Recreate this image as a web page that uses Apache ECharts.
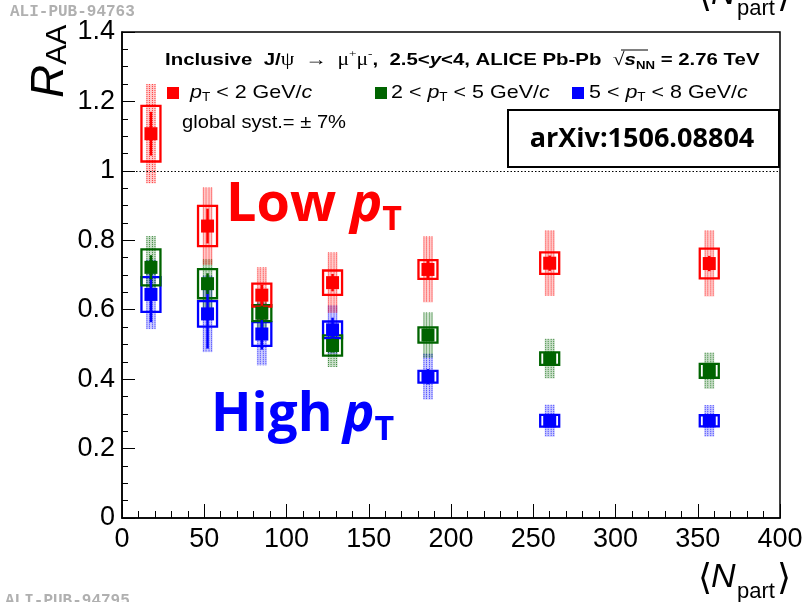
<!DOCTYPE html>
<html><head><meta charset="utf-8">
<script src="https://cdn.jsdelivr.net/npm/echarts@6/dist/echarts.min.js"></script>
<style>html,body{margin:0;padding:0;background:#fff}#c{width:807px;height:602px}</style>
</head><body><div id="c"></div>
<script>
// <Npart> of each centrality class
const npart = [17.6, 52, 85, 128, 186, 260, 357];
// pT < 2 GeV/c
const lowVal  = [1.107, 0.841, 0.642, 0.678, 0.716, 0.734, 0.733];
const lowStat = [0.063, 0.050, 0.030, 0.025, 0.025, 0.022, 0.022];
const lowSys  = [0.080, 0.058, 0.033, 0.035, 0.027, 0.031, 0.043];
const lowCor  = [0.143, 0.111, 0.080, 0.087, 0.095, 0.094, 0.095];
// 2 < pT < 5 GeV/c
const midVal  = [0.722, 0.675, 0.590, 0.497, 0.527, 0.459, 0.424];
const midStat = [0.035, 0.030, 0.020, 0.020, 0.012, 0.012, 0.012];
const midSys  = [0.052, 0.042, 0.023, 0.029, 0.022, 0.018, 0.020];
const midCor  = [0.090, 0.070, 0.060, 0.062, 0.065, 0.057, 0.052];
// 5 < pT < 8 GeV/c
const highVal  = [0.644, 0.588, 0.530, 0.542, 0.407, 0.280, 0.280];
const highStat = [0.080, 0.100, 0.045, 0.035, 0.022, 0.016, 0.014];
const highSys  = [0.050, 0.037, 0.034, 0.024, 0.017, 0.017, 0.016];
const highCor  = [0.100, 0.110, 0.090, 0.070, 0.066, 0.046, 0.045];

const xTicks = [0, 50, 100, 150, 200, 250, 300, 350, 400];
const yTicks = [0, 0.2, 0.4, 0.6, 0.8, 1, 1.2, 1.4];

const RED = '#ff0000', GREEN = '#006400', BLUE = '#0000ff';
const LIGHT = {[RED]:'rgba(255,0,0,0.2)', [GREEN]:'rgba(0,100,0,0.2)', [BLUE]:'rgba(0,0,255,0.2)'};

function pack(v, e) { return npart.map((x, i) => [x, v[i], e[i]]); }

function bandRender(color) {
  return function (params, api) {
    const x = api.value(0), y = api.value(1), h = api.value(2);
    const t = api.coord([x, y + h]), b = api.coord([x, y - h]);
    const w = 10;
    const ch = [{type:'rect', shape:{x:t[0]-w/2, y:t[1], width:w, height:b[1]-t[1]}, style:{fill:LIGHT[color]}}];
    [-4, -1.5, 1.5, 4].forEach(dx => ch.push({type:'line',
      shape:{x1:t[0]+dx, y1:t[1], x2:t[0]+dx, y2:b[1]},
      style:{stroke:color, lineWidth:1, lineDash:[1,1], opacity:0.75}}));
    return {type:'group', children:ch};
  };
}
function boxRender(color) {
  return function (params, api) {
    const x = api.value(0), y = api.value(1), h = api.value(2);
    const t = api.coord([x, y + h]), b = api.coord([x, y - h]);
    const w = 19;
    return {type:'rect', shape:{x:t[0]-w/2, y:t[1], width:w, height:b[1]-t[1]},
      style:{fill:'none', stroke:color, lineWidth:2.3}};
  };
}
function statRender(color) {
  return function (params, api) {
    const x = api.value(0), y = api.value(1), h = api.value(2);
    const t = api.coord([x, y + h]), b = api.coord([x, y - h]);
    return {type:'line', shape:{x1:t[0], y1:t[1], x2:b[0], y2:b[1]},
      style:{stroke:color, lineWidth:2.5}};
  };
}

const sets = [
  {c:BLUE, v:highVal, s:highStat, sy:highSys, co:highCor, n:'5 < pT < 8 GeV/c'},
  {c:GREEN, v:midVal, s:midStat, sy:midSys, co:midCor, n:'2 < pT < 5 GeV/c'},
  {c:RED, v:lowVal, s:lowStat, sy:lowSys, co:lowCor, n:'pT < 2 GeV/c'}
];
const series = [];
sets.forEach(d => series.push({type:'custom', name:d.n+' corr', z:1, renderItem:bandRender(d.c), data:pack(d.v, d.co), silent:true}));
sets.forEach(d => series.push({type:'custom', name:d.n+' syst', z:2, renderItem:boxRender(d.c), data:pack(d.v, d.sy), silent:true}));
sets.forEach(d => series.push({type:'custom', name:d.n+' stat', z:3, renderItem:statRender(d.c), data:pack(d.v, d.s), silent:true}));
sets.forEach((d, k) => {
  const s = {type:'scatter', name:d.n, z:4, symbol:'rect', symbolSize:13,
    itemStyle:{color:d.c, opacity:1}, data:npart.map((x, i) => [x, d.v[i]])};
  if (k === 0) s.markLine = {silent:true, symbol:'none', label:{show:false},
    lineStyle:{color:'#000', type:[1.5,2], width:1}, data:[{yAxis:1}], animation:false};
  series.push(s);
});

const SANS = '"Liberation Sans", Arial, sans-serif';
const OPEN = '"Open Sans", sans-serif';
const tick = {fontFamily:SANS, fontSize:27, color:'#000'};

function nTitle(dy) {
  return [
    {type:'text', x:698, y:580+dy, style:{text:'⟨', fontFamily:'"DejaVu Sans"', fontSize:36, fill:'#000', verticalAlign:'middle'}},
    {type:'text', x:711, y:578+dy, style:{text:'N', fontFamily:SANS, fontStyle:'italic', fontSize:34, fill:'#000', verticalAlign:'middle'}},
    {type:'text', x:737, y:592+dy, style:{text:'part', fontFamily:SANS, fontSize:22, fill:'#000', verticalAlign:'middle'}},
    {type:'text', x:777, y:580+dy, style:{text:'⟩', fontFamily:'"DejaVu Sans"', fontSize:36, fill:'#000', verticalAlign:'middle'}}
  ];
}

const b17 = {fontFamily:SANS, fontWeight:'bold', fontSize:17, fill:'#000', lineHeight:22};
const legRich = {
  n:{fontFamily:SANS, fontSize:19, fill:'#000', lineHeight:22},
  i:{fontFamily:SANS, fontStyle:'italic', fontSize:19, fill:'#000', lineHeight:22},
  s:{fontFamily:SANS, fontSize:12, fill:'#000', lineHeight:10, verticalAlign:'bottom'}};
const option = {
  animation:false,
  backgroundColor:'#fff',
  grid:{left:122, right:27, top:32, bottom:84, show:true, borderColor:'#000', borderWidth:1.5, backgroundColor:'transparent'},
  xAxis:{type:'value', min:xTicks[0], max:xTicks[xTicks.length-1], interval:xTicks[1]-xTicks[0],
    axisLine:{lineStyle:{color:'#000', width:1.5}}, splitLine:{show:false},
    axisTick:{inside:true, length:14, lineStyle:{color:'#000', width:1}},
    minorTick:{show:true, splitNumber:5, length:7, lineStyle:{color:'#000', width:1}},
    axisLabel:Object.assign({margin:8}, tick)},
  yAxis:{type:'value', min:yTicks[0], max:yTicks[yTicks.length-1], interval:yTicks[1]-yTicks[0],
    axisLine:{lineStyle:{color:'#000', width:1.5}}, splitLine:{show:false},
    axisTick:{inside:true, length:13, lineStyle:{color:'#000', width:1}},
    minorTick:{show:true, splitNumber:4, length:6, lineStyle:{color:'#000', width:1}},
    axisLabel:Object.assign({margin:7, formatter:v => String(+v.toFixed(1))}, tick)},
  series:series,
  graphic:[
    {type:'text', x:10, y:12, style:{text:'ALI-PUB-94763', fontFamily:'"Liberation Mono", monospace', fontWeight:'bold', fontSize:16, fill:'#b0b0b0', verticalAlign:'middle'}},
    {type:'text', x:5, y:601, style:{text:'ALI-PUB-94795', fontFamily:'"Liberation Mono", monospace', fontWeight:'bold', fontSize:16, fill:'#b0b0b0', verticalAlign:'middle'}},
    ...nTitle(0), ...nTitle(-583),
    {type:'text', x:50, y:98, rotation:Math.PI/2, style:{text:'{r|R}{s|AA}', verticalAlign:'middle',
      rich:{r:{fontFamily:SANS, fontStyle:'italic', fontSize:46, fill:'#000', lineHeight:46},
            s:{fontFamily:SANS, fontSize:30, fill:'#000', lineHeight:26, verticalAlign:'bottom'}}}},
    {type:'text', x:165, y:60, scaleX:1.2, style:{verticalAlign:'middle',
      text:'{b|Inclusive  J/}{g|ψ  →  μ}{sp|+}{g|μ}{sp|-}{b|,  2.5<}{bi|y}{b|<4, ALICE Pb-Pb  }{g|√}{bi|s}{sb|NN}{b| = 2.76 TeV}',
      rich:{b:b17, bi:Object.assign({}, b17, {fontStyle:'italic'}),
        g:{fontFamily:'"Liberation Serif", serif', fontSize:18, fill:'#000', lineHeight:22},
        sp:{fontFamily:'"Liberation Serif", serif', fontSize:11, fill:'#000', lineHeight:12, verticalAlign:'top'},
        sb:{fontFamily:SANS, fontWeight:'bold', fontSize:11, fill:'#000', lineHeight:12, verticalAlign:'bottom'}}}},
    {type:'line', shape:{x1:621, y1:50, x2:648, y2:50}, style:{stroke:'#000', lineWidth:1}},
    {type:'rect', shape:{x:167, y:87, width:12, height:12}, style:{fill:RED}},
    {type:'rect', shape:{x:375, y:87, width:12, height:12}, style:{fill:GREEN}},
    {type:'rect', shape:{x:572, y:87, width:12, height:12}, style:{fill:BLUE}},
    ...[[190, '{i|p}{s|T}{n| < 2 GeV/}{i|c}'], [391, '{n|2 < }{i|p}{s|T}{n| < 5 GeV/}{i|c}'], [589, '{n|5 < }{i|p}{s|T}{n| < 8 GeV/}{i|c}']].map(([x, t]) => (
      {type:'text', x:x, y:93, scaleX:1.13, style:{text:t, verticalAlign:'middle', rich:legRich}})),
    {type:'text', x:182, y:123, scaleX:1.12, style:{text:'global syst.= ± 7%', fontFamily:SANS, fontSize:18, fill:'#000', verticalAlign:'middle'}},
    {type:'rect', shape:{x:508, y:110, width:271, height:57}, style:{fill:'#fff', stroke:'#000', lineWidth:2}},
    {type:'text', x:642, y:139, style:{text:'arXiv:1506.08804', fontFamily:OPEN, fontWeight:'bold', fontSize:27, fill:'#000', align:'center', verticalAlign:'middle'}},
    {type:'text', x:226, y:206, style:{text:'{a|Low }{ai|p}{as|T}', verticalAlign:'middle', rich:{
      a:{fontFamily:OPEN, fontWeight:'bold', fontSize:54, fill:RED, lineHeight:62},
      ai:{fontFamily:OPEN, fontWeight:'bold', fontStyle:'italic', fontSize:54, fill:RED, lineHeight:62},
      as:{fontFamily:OPEN, fontWeight:'bold', fontSize:34, fill:RED, lineHeight:38, verticalAlign:'bottom'}}}},
    {type:'text', x:211, y:416, style:{text:'{a|High}{a2| }{ai|p}{as|T}', verticalAlign:'middle', rich:{
      a:{fontFamily:OPEN, fontWeight:'bold', fontSize:53, fill:BLUE, lineHeight:62},
      a2:{fontFamily:OPEN, fontWeight:'bold', fontSize:40, fill:BLUE, lineHeight:62},
      ai:{fontFamily:OPEN, fontWeight:'bold', fontStyle:'italic', fontSize:53, fill:BLUE, lineHeight:62},
      as:{fontFamily:OPEN, fontWeight:'bold', fontSize:34, fill:BLUE, lineHeight:38, verticalAlign:'bottom'}}}}
  ]
};
const chart = echarts.init(document.getElementById('c'), null, {renderer:'canvas'});
chart.setOption(option);
</script>
</body></html>
